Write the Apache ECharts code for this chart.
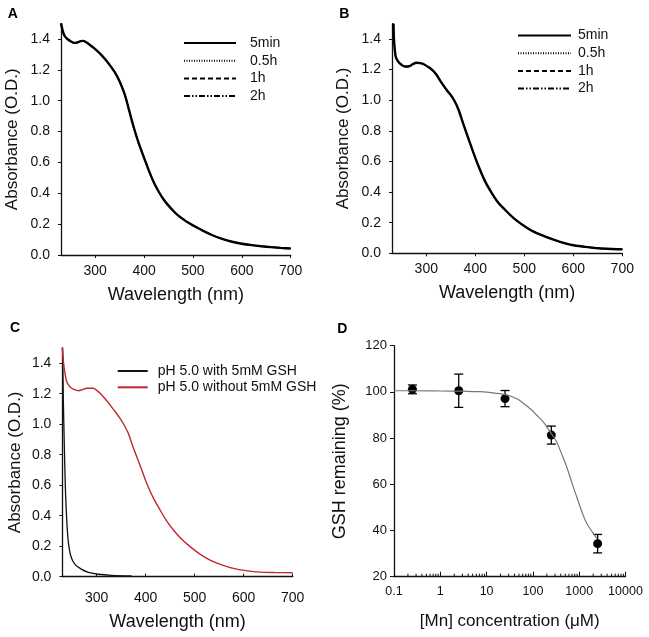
<!DOCTYPE html>
<html><head><meta charset="utf-8">
<script src="https://cdn.jsdelivr.net/npm/echarts@6/dist/echarts.min.js"></script>
<style>html,body{margin:0;padding:0;background:#fff}#c{width:649px;height:637px}</style>
</head><body><div id="c"></div>
<script>
// ---------- Data ----------
const wlTicks = [300, 400, 500, 600, 700];
const absTicks = [0, 0.2, 0.4, 0.6, 0.8, 1.0, 1.2, 1.4];
const gshTicks = [20, 40, 60, 80, 100, 120];

const timeNames = ['5min', '0.5h', '1h', '2h'];

// Panel A
const wlA = [230,233,236,240,245,250,255,260,265,270,275,280,290,300,310,320,330,340,350,360,365,370,380,390,400,410,420,430,440,450,460,470,480,490,500,520,540,560,580,600,620,640,660,680,700];
const absA = [1.50,1.46,1.43,1.41,1.395,1.385,1.377,1.375,1.38,1.386,1.388,1.382,1.36,1.335,1.305,1.27,1.23,1.185,1.125,1.045,0.99,0.93,0.815,0.715,0.63,0.545,0.47,0.41,0.36,0.32,0.285,0.255,0.232,0.21,0.192,0.158,0.128,0.104,0.086,0.073,0.064,0.057,0.051,0.046,0.042];

// Panel B
const wlB = [233,234,236,238,242,246,252,258,265,272,280,288,295,305,312,320,332,342,353,360,366,375,387,397,407,420,434,447,461,480,502,520,543,570,597,625,651,680,700];
const absB = [1.50,1.40,1.32,1.28,1.255,1.24,1.225,1.22,1.222,1.235,1.245,1.242,1.235,1.215,1.198,1.17,1.11,1.065,1.02,0.98,0.936,0.85,0.74,0.65,0.566,0.47,0.392,0.33,0.283,0.225,0.174,0.14,0.109,0.078,0.054,0.042,0.033,0.028,0.026];

// Panel C
const cNames = ['pH 5.0 with 5mM GSH', 'pH 5.0 without 5mM GSH'];
const wlCwith = [230,230.6,231.9,233.9,235.9,238.7,242,247.6,255.7,269.3,282.9,303.3,330.6,371.4];
const absCwith = [1.50,1.454,1.159,0.864,0.601,0.383,0.23,0.131,0.081,0.048,0.029,0.016,0.009,0.005];
const wlCwithout = [230,231,233.3,236,238.8,243,249,256,262.6,270,279.6,293,300,306.8,315,327.2,337,347.6,356,364.6,372,381.6,392,402,415,429.3,442,456.5,472,490.5,510,531.3,555,578.9,605,633.3,665,700];
const absCwithout = [1.51,1.45,1.378,1.32,1.28,1.255,1.236,1.225,1.22,1.225,1.236,1.236,1.222,1.203,1.175,1.127,1.085,1.039,0.995,0.94,0.87,0.788,0.70,0.613,0.52,0.4375,0.37,0.306,0.25,0.197,0.15,0.109,0.078,0.055,0.04,0.03,0.027,0.026];

// Panel D
const mnConc = [0.25, 2.5, 25, 250, 2500];
const gshMean = [101.1, 100.5, 97.1, 81.3, 34.3];
const gshErr = [1.9, 7.2, 3.5, 3.9, 4.0];
const fitX = [0.1,0.25,1,3,7.2,15,27,45,62,90,120,160,199,260,325,420,536,700,883,1150,1450,1900,2400];
const fitY = [100.5,100.5,100.4,100.3,100.1,99.5,98.7,97,95.1,92.5,90,87.5,84.9,81.5,78.4,73,67.6,60.5,54.6,48,43.1,39.5,36.6];
const logDecades = [0.1, 1, 10, 100, 1000];
const minorMult = [2, 3, 4, 5, 6, 7, 8, 9];

// ---------- Helpers ----------
const zip = (xs, ys) => xs.map((x, i) => [x, ys[i]]);
const FONT = "'Liberation Sans', Arial, sans-serif";
const TXT = '#111';
const axisLine = { show: true, lineStyle: { color: '#111', width: 1.3 } };

function wlAxis(idx, tickInside, labelMargin, nameGap) {
  return {
    type: 'value', gridIndex: idx, min: 230, max: 700,
    name: 'Wavelength (nm)', nameLocation: 'middle', nameGap: nameGap,
    nameTextStyle: { fontFamily: FONT, fontSize: 18, color: TXT },
    axisLine: axisLine,
    axisTick: { show: true, inside: tickInside, length: 3, customValues: wlTicks, lineStyle: { color: '#111', width: 1 } },
    axisLabel: { customValues: wlTicks, margin: labelMargin, fontFamily: FONT, fontSize: 14, color: TXT },
    splitLine: { show: false }
  };
}
function absAxis(idx, nameGap) {
  return {
    type: 'value', gridIndex: idx, min: 0, max: 1.5,
    name: 'Absorbance (O.D.)', nameLocation: 'middle', nameGap: nameGap,
    nameTextStyle: { fontFamily: FONT, fontSize: 17, color: TXT },
    axisLine: axisLine,
    axisTick: { show: true, length: 3, customValues: absTicks, lineStyle: { color: '#111', width: 1 } },
    axisLabel: { customValues: absTicks, margin: 11, fontFamily: FONT, fontSize: 14, color: TXT, formatter: v => v.toFixed(1) },
    splitLine: { show: false }
  };
}
const timeStyles = [
  { type: 'solid', width: 2.4 },
  { type: [1, 1.5], width: 1 },
  { type: [5, 3], width: 1.2 },
  { type: [6, 2, 1.5, 2, 1.5, 2], width: 1.2 }
];
function timeSeries(idx, data) {
  return timeNames.map((n, i) => ({
    name: n, type: 'line', xAxisIndex: idx, yAxisIndex: idx, data: data,
    symbol: 'none', smooth: 0.3, silent: true,
    itemStyle: { color: '#000' },
    lineStyle: Object.assign({ color: '#000' }, timeStyles[i])
  }));
}
function legendTime(left, top, width, pad) {
  return {
    data: timeNames, left: left, top: top, orient: 'vertical', padding: 0,
    itemWidth: width, itemHeight: 12, itemGap: 3.7, selectedMode: false,
    itemStyle: { opacity: 0 },
    textStyle: { fontFamily: FONT, fontSize: 14, color: TXT, padding: [0, 0, 0, pad] }
  };
}

const minorTickData = [];
logDecades.forEach(d => minorMult.forEach(m => minorTickData.push([+(d * m).toPrecision(6), 20])));

const option = {
  animation: false,
  backgroundColor: '#fff',
  title: [
    { text: 'A', left: 2.7, top: 1.7 },
    { text: 'B', left: 334.3, top: 1.7 },
    { text: 'C', left: 5, top: 315.7 },
    { text: 'D', left: 332.3, top: 317.3 }
  ].map(t => Object.assign(t, { textStyle: { fontFamily: FONT, fontSize: 14, fontWeight: 'bold', color: '#000' } })),
  legend: [
    legendTime(183, 36, 52, 9),
    legendTime(517, 28.5, 53, 2),
    {
      data: cNames, left: 116.7, top: 364, orient: 'vertical', padding: 0,
      itemWidth: 30, itemHeight: 12, itemGap: 2.3, selectedMode: false,
      itemStyle: { opacity: 0 },
      textStyle: { fontFamily: FONT, fontSize: 14, color: TXT, padding: [0, 0, 0, 5] }
    }
  ],
  grid: [
    { left: 61, top: 23.6, width: 229.7, height: 231.4 },
    { left: 392, top: 23.7, width: 230.3, height: 229.6 },
    { left: 62.4, top: 348, width: 230.3, height: 228.7 },
    { left: 394, top: 345.7, width: 231.5, height: 231 }
  ],
  xAxis: [
    wlAxis(0, false, 9, 31),
    wlAxis(1, false, 9, 31),
    wlAxis(2, true, 14, 36),
    {
      type: 'log', gridIndex: 3, logBase: 10, min: 0.1, max: 10000,
      name: '[Mn] concentration (\u03bcM)', nameLocation: 'middle', nameGap: 36,
      nameTextStyle: { fontFamily: FONT, fontSize: 17, color: TXT },
      axisLine: axisLine,
      axisTick: { show: true, inside: true, length: 5, lineStyle: { color: '#111', width: 1 } },
      axisLabel: { margin: 8, fontFamily: FONT, fontSize: 12.5, color: TXT, formatter: v => String(+(+v).toPrecision(6)) },
      splitLine: { show: false }, minorTick: { show: false }
    }
  ],
  yAxis: [
    absAxis(0, 40),
    absAxis(1, 40),
    absAxis(2, 39),
    {
      type: 'value', gridIndex: 3, min: 20, max: 120, interval: 20,
      name: 'GSH remaining (%)', nameLocation: 'middle', nameGap: 45,
      nameTextStyle: { fontFamily: FONT, fontSize: 18, color: TXT },
      axisLine: axisLine,
      axisTick: { show: true, length: 4, lineStyle: { color: '#111', width: 1 } },
      axisLabel: { margin: 7, fontFamily: FONT, fontSize: 13, color: TXT },
      splitLine: { show: false }
    }
  ],
  series: [
    ...timeSeries(0, zip(wlA, absA)),
    ...timeSeries(1, zip(wlB, absB)),
    {
      name: cNames[0], type: 'line', xAxisIndex: 2, yAxisIndex: 2, data: zip(wlCwith, absCwith),
      symbol: 'none', smooth: 0.3, lineStyle: { color: '#111', width: 1.3 }, itemStyle: { color: '#111' }
    },
    {
      name: cNames[1], type: 'line', xAxisIndex: 2, yAxisIndex: 2, data: zip(wlCwithout, absCwithout),
      symbol: 'none', smooth: 0.3, lineStyle: { color: '#c0282e', width: 1.4 }, itemStyle: { color: '#c0282e' }
    },
    {
      name: 'fit', type: 'line', xAxisIndex: 3, yAxisIndex: 3, data: zip(fitX, fitY),
      symbol: 'none', smooth: 0.4, lineStyle: { color: '#777', width: 1.2 }, silent: true
    },
    {
      name: 'err', type: 'custom', xAxisIndex: 3, yAxisIndex: 3,
      data: mnConc.map((x, i) => [x, gshMean[i] - gshErr[i], gshMean[i] + gshErr[i]]),
      renderItem: function (params, api) {
        const x = api.value(0), lo = api.value(1), hi = api.value(2);
        const p1 = api.coord([x, hi]), p2 = api.coord([x, lo]);
        const hw = 4.5;
        const style = { stroke: '#000', lineWidth: 1.3, fill: null };
        return { type: 'group', children: [
          { type: 'line', shape: { x1: p1[0], y1: p1[1], x2: p2[0], y2: p2[1] }, style: style },
          { type: 'line', shape: { x1: p1[0] - hw, y1: p1[1], x2: p1[0] + hw, y2: p1[1] }, style: style },
          { type: 'line', shape: { x1: p2[0] - hw, y1: p2[1], x2: p2[0] + hw, y2: p2[1] }, style: style }
        ]};
      },
      silent: true
    },
    {
      name: 'mean', type: 'scatter', xAxisIndex: 3, yAxisIndex: 3,
      data: zip(mnConc, gshMean), symbol: 'circle', symbolSize: 9,
      itemStyle: { color: '#000', opacity: 1 }, silent: true
    },
    {
      name: 'minorTicks', type: 'custom', xAxisIndex: 3, yAxisIndex: 3,
      data: minorTickData, silent: true, clip: false,
      renderItem: function (params, api) {
        const p = api.coord([api.value(0), api.value(1)]);
        return { type: 'line', shape: { x1: p[0], y1: p[1], x2: p[0], y2: p[1] - 3 }, style: { stroke: '#111', lineWidth: 1 } };
      }
    }
  ]
};

const chart = echarts.init(document.getElementById('c'), null, { renderer: 'canvas' });
chart.setOption(option);
</script>
</body></html>
